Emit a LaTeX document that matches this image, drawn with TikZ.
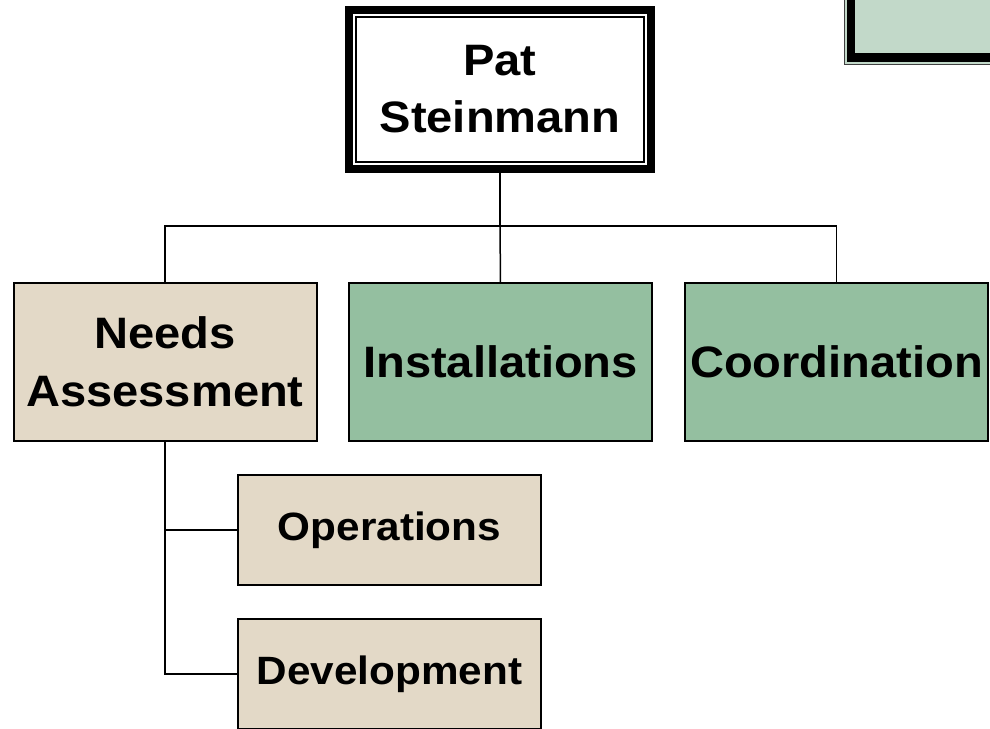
\documentclass[tikz,border=0pt]{standalone}
\usepackage{fontspec}
\setmainfont{Liberation Sans}[FakeStretch=1.07]
\definecolor{tan}{HTML}{E3D9C7}
\definecolor{sage}{HTML}{94BFA0}
\definecolor{mint}{HTML}{C2D9C9}
\tikzset{
  unit/.style={draw=black, line width=2pt, minimum width=303pt, inner sep=0pt,
    outer sep=0pt, align=center, font=\bfseries\fontsize{44}{58}\selectfont},
  subunit/.style={unit, fill=tan, minimum height=110pt,
    font=\bfseries\fontsize{39.5}{46}\selectfont},
  link/.style={line width=1.5pt, draw=black}
}
\begin{document}
\begin{tikzpicture}[x=1pt, y=-1pt]
\useasboundingbox (0,0) rectangle (990,728);

% partially visible framed box in the upper right corner
\filldraw[fill=mint, draw=black!75, line width=1pt] (844.5,-20) rectangle (1010,64);
\draw[line width=8.5pt] (851,-20) rectangle (1010,57.5);

% head of the unit, framed by a thick and a thin border
\node[draw=black, line width=8pt, minimum width=302pt, minimum height=159pt,
      inner sep=0pt, outer sep=0pt, align=center,
      font=\bfseries\fontsize{44}{57}\selectfont]
      (pat) at (500,89.5) {Pat\\Steinmann};
\draw[line width=2pt] ([xshift=7pt,yshift=-7pt]pat.north west)
      rectangle ([xshift=-7pt,yshift=7pt]pat.south east);

% first level
\node[unit, fill=tan,  minimum height=158pt] (needs) at (165,362)   {Needs\\Assessment};
\node[unit, fill=sage, minimum height=158pt] (inst)  at (500.5,362) {Installations};
\node[unit, fill=sage, minimum height=158pt] (coord) at (836.5,362) {Coordination};

% second level under Needs Assessment
\node[subunit] (ops) at (389.5,530) {Operations};
\node[subunit] (dev) at (389.5,674) {Development};

% connectors
\coordinate (bus) at (500,226);
\draw[link] (pat.south) -- (bus);
\draw[link] (needs.north) -- (needs.north |- bus) -- (coord.north |- bus) -- (coord.north);
\draw[link] (bus) -- (inst.north);
\draw[link] (needs.south) |- (ops.west);
\draw[link] (needs.south) |- (dev.west);
\end{tikzpicture}
\end{document}
